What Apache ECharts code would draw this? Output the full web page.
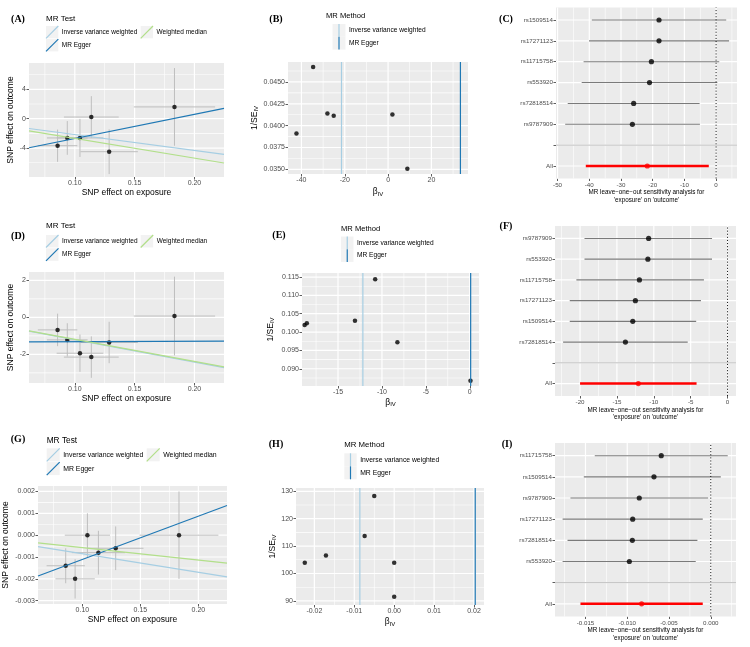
<!DOCTYPE html>
<html lang="en">
<head>
<meta charset="UTF-8">
<title>MR plots</title>
<script src="https://cdn.jsdelivr.net/npm/echarts@6.0.0/dist/echarts.min.js"></script>
<style>
  html, body { margin: 0; padding: 0; background: #fff; }
  #main { width: 750px; height: 647px; }
</style>
</head>
<body>
<div id="main"></div>
<script>
// ---------- data ----------
var expBeta = [0.0856, 0.0937, 0.1043, 0.1138, 0.1287, 0.1833];
var expSe   = [0.0165, 0.0170, 0.0195, 0.0229, 0.0240, 0.0340];

var outBetaA = [-3.68, -2.62, -2.62, 0.23, -4.50, 1.61];
var outSeA   = [2.20, 2.30, 2.60, 2.85, 3.05, 5.30];
var outBetaD = [-0.68, -1.22, -1.94, -2.15, -1.36, 0.07];
var outSeD   = [0.88, 0.90, 1.01, 1.12, 1.12, 2.13];
var outBetaG = [-0.0014, -0.0020, 0.0000, -0.0008, -0.0006, 0.0000];
var outSeG   = [0.0008, 0.0009, 0.0010, 0.0010, 0.0010, 0.0020];

var methods = ['Inverse variance weighted', 'MR Egger', 'Weighted median'];
var methodColors = ['#A6CEE3', '#1F78B4', '#B2DF8A'];
var slopeA = [-21.6, 33.0, -26.9],     interA = [0, -6.0, 0];
var slopeD = [-12.1, 0.3, -11.9],      interD = [0, -1.35, 0];
var slopeG = [-0.0085, 0.0198, -0.0057], interG = [0, -0.00309, 0];

// funnel plots: ratio estimate and 1/SE, plus IVW / Egger estimates
var funBetaB  = [-42.3, -28.0, -25.1, 2.0, -34.6, 8.9];
var funInvSeB = [0.03909, 0.04139, 0.04112, 0.04127, 0.04671, 0.03508];
var funLineB  = [-21.5, 33.4];
var funBetaE  = [-8.24, -13.07, -18.55, -18.8, -10.77, 0.08];
var funInvSeE = [0.0972, 0.1031, 0.1024, 0.1019, 0.1144, 0.0867];
var funLineE  = [-12.17, 0.1];
var funBetaH  = [-0.0171, -0.0224, 0.0, -0.0074, -0.0050, 0.0];
var funInvSeH = [106.6, 103.9, 103.9, 113.7, 128.3, 91.5];
var funLineH  = [-0.0086, 0.0203];

// leave-one-out, rows listed top to bottom; "all" = [b, lo, hi]
var looSnpC = ['rs1509514', 'rs17271123', 'rs11715758', 'rs553920', 'rs72818514', 'rs9787909'];
var looBC   = [-18.0, -18.0, -20.4, -21.0, -26.0, -26.4];
var looLoC  = [-39.2, -40.1, -41.8, -42.4, -46.8, -47.6];
var looHiC  = [3.2, 4.1, 1.0, 0.4, -5.2, -5.1];
var looAllC = [-21.7, -41.1, -2.3];

var looSnpF = ['rs9787909', 'rs553920', 'rs11715758', 'rs17271123', 'rs1509514', 'rs72818514'];
var looBF   = [-10.7, -10.8, -11.95, -12.5, -12.85, -13.85];
var looLoF  = [-19.4, -19.4, -20.5, -21.4, -21.4, -22.3];
var looHiF  = [-2.1, -2.1, -3.2, -3.6, -4.25, -5.4];
var looAllF = [-12.1, -20.0, -4.2];

var looSnpI = ['rs11715758', 'rs1509514', 'rs9787909', 'rs17271123', 'rs72818514', 'rs553920'];
var looBI   = [-0.00593, -0.0068, -0.00856, -0.00935, -0.00939, -0.00975];
var looLoI  = [-0.01389, -0.0152, -0.0168, -0.01774, -0.01715, -0.01774];
var looHiI  = [0.00203, 0.0012, -0.00032, -0.00096, -0.0016, -0.0018];
var looAllI = [-0.00828, -0.0156, -0.00096];

// tick labels
var ticksExp = [0.10, 0.15, 0.20];
var ticksA = [-4, 0, 4], ticksD = [-2, 0, 2], ticksG = [-0.003, -0.002, -0.001, 0, 0.001, 0.002];
var ticksBx = [-40, -20, 0, 20], ticksBy = [0.0350, 0.0375, 0.0400, 0.0425, 0.0450];
var ticksEx = [-15, -10, -5, 0],  ticksEy = [0.090, 0.095, 0.100, 0.105, 0.110, 0.115];
var ticksHx = [-0.02, -0.01, 0, 0.01, 0.02], ticksHy = [90, 100, 110, 120, 130];
var ticksC = [-50, -40, -30, -20, -10, 0];
var ticksF = [-20, -15, -10, -5, 0];
var ticksI = [-0.015, -0.010, -0.005, 0.000];

// ---------- layout ----------
var FONT = "'Liberation Sans', Arial, Helvetica, sans-serif";
var SERIF = "'Liberation Serif', 'Times New Roman', serif";
// left, top, width, height
var grids = [
    [29, 63, 195, 114],    // A
    [288, 62, 180, 112],   // B
    [556, 7.5, 181, 171],  // C
    [29, 272, 195, 111],   // D
    [302, 273, 177, 113],  // E
    [555, 226, 181, 170],  // F
    [38, 486, 189, 118],   // G
    [296, 488, 188, 117],  // H
    [555, 443, 181, 173.5] // I
];
var xrExp = [0.0617, 0.2247];

var myChart = echarts.init(document.getElementById('main'), null, {renderer: 'canvas'});
var option = {
    animation: false,
    backgroundColor: '#ffffff',
    textStyle: {fontFamily: FONT},
    grid: grids.map(function (g) {
        return {left: g[0], top: g[1], width: g[2], height: g[3], show: false,
            containLabel: false, outerBoundsMode: 'none'};
    }),
    xAxis: [], yAxis: [], series: [], graphic: []
};

function fmt(v, d) { return v.toFixed(d); }

function minors(ticks, range) {
    var step = ticks[1] - ticks[0], out = [];
    for (var k = -1; k < ticks.length; k++) {
        var v = ticks[0] + step * (k + 0.5);
        if (v > range[0] && v < range[1]) out.push(v);
    }
    return out;
}

function valueAxis(gi, range, ticks, labelFn, fs) {
    return {
        type: 'value', gridIndex: gi, min: range[0], max: range[1],
        axisLine: {show: false, onZero: false},
        axisTick: {show: true, customValues: ticks, length: 2.5, lineStyle: {color: '#333333', width: 0.8}},
        axisLabel: {customValues: ticks, color: '#4D4D4D', fontSize: fs || 7, fontFamily: FONT, margin: 3,
            formatter: labelFn},
        splitLine: {show: false}
    };
}

function segment(gi, pts, color, width, z, dash) {
    option.series.push({
        type: 'line', xAxisIndex: gi, yAxisIndex: gi, z: z, silent: true, symbol: 'none', clip: true,
        lineStyle: {color: color, width: width, type: dash || 'solid'},
        data: pts
    });
}

// grey panel + white grid lines (minor, then major), drawn as one custom series
function panelBackground(gi, xr, yr, xMaj, xMin, yMaj, yMin) {
    var lines = [];
    xMin.forEach(function (v) { lines.push([v, 0, 0.6]); });
    yMin.forEach(function (v) { lines.push([v, 1, 0.6]); });
    xMaj.forEach(function (v) { lines.push([v, 0, 1.2]); });
    yMaj.forEach(function (v) { lines.push([v, 1, 1.2]); });
    option.series.push({
        type: 'custom', xAxisIndex: gi, yAxisIndex: gi, z: 1, silent: true,
        data: [[xr[0], yr[0]]],
        renderItem: function (params, api) {
            var lo = api.coord([xr[0], yr[0]]), hi = api.coord([xr[1], yr[1]]);
            var kids = [{type: 'rect', shape: {x: lo[0], y: hi[1], width: hi[0] - lo[0], height: lo[1] - hi[1]},
                style: {fill: '#EBEBEB'}}];
            lines.forEach(function (l) {
                var p1, p2, vert = l[1] === 0;
                if (vert) { p1 = api.coord([l[0], yr[0]]); p2 = api.coord([l[0], yr[1]]); }
                else { p1 = api.coord([xr[0], l[0]]); p2 = api.coord([xr[1], l[0]]); }
                kids.push({type: 'rect',
                    shape: {x: Math.min(p1[0], p2[0]) - (vert ? l[2] / 2 : 0),
                            y: Math.min(p1[1], p2[1]) - (vert ? 0 : l[2] / 2),
                            width: vert ? l[2] : Math.abs(p2[0] - p1[0]),
                            height: vert ? Math.abs(p2[1] - p1[1]) : l[2]},
                    style: {fill: '#FFFFFF'}});
            });
            return {type: 'group', children: kids};
        }
    });
}

function axisName(ax, name, gap, fs, rotate) {
    ax.name = name;
    ax.nameLocation = 'middle';
    ax.nameGap = gap;
    if (rotate) ax.nameRotate = 90;
    ax.nameTextStyle = {color: '#000', fontSize: fs, fontFamily: FONT, lineHeight: fs * 1.2,
        rich: {s: {fontSize: fs * 0.7, fontFamily: FONT, color: '#000', padding: [fs * 0.45, 0, 0, 0]}}};
    return ax;
}

// ---------- scatter panels ----------
function scatterPanel(gi, outB, outSe, slope, inter, yr, yTicks, yDec, yGap) {
    var xa = valueAxis(gi, xrExp, ticksExp, function (v) { return fmt(v, 2); });
    var ya = valueAxis(gi, yr, yTicks, function (v) { return fmt(v, yDec); });
    option.xAxis[gi] = axisName(xa, 'SNP effect on exposure', 10, 8.5);
    option.yAxis[gi] = axisName(ya, 'SNP effect on outcome', yGap, 8.5, true);
    panelBackground(gi, xrExp, yr, ticksExp, minors(ticksExp, xrExp), yTicks, minors(yTicks, yr));
    option.series.push({
        type: 'custom', xAxisIndex: gi, yAxisIndex: gi, z: 4, silent: true,
        data: expBeta.map(function (x, i) { return [x, outB[i], expSe[i], outSe[i]]; }),
        renderItem: function (params, api) {
            var x = api.value(0), y = api.value(1), sx = api.value(2), sy = api.value(3);
            var v1 = api.coord([x, y - sy]), v2 = api.coord([x, y + sy]);
            var h1 = api.coord([x - sx, y]), h2 = api.coord([x + sx, y]);
            var st = {stroke: '#BEBEBE', lineWidth: 1};
            return {type: 'group', children: [
                {type: 'line', shape: {x1: v1[0], y1: v1[1], x2: v2[0], y2: v2[1]}, style: st},
                {type: 'line', shape: {x1: h1[0], y1: h1[1], x2: h2[0], y2: h2[1]}, style: st}
            ]};
        }
    });
    option.series.push({
        type: 'scatter', xAxisIndex: gi, yAxisIndex: gi, z: 5, silent: true,
        symbolSize: 4.5, itemStyle: {color: '#000'},
        data: expBeta.map(function (x, i) { return [x, outB[i]]; })
    });
    methods.forEach(function (m, k) {
        segment(gi, xrExp.map(function (x) { return [x, inter[k] + slope[k] * x]; }), methodColors[k], 1.2, 6);
    });
}

// ---------- funnel panels ----------
function funnelPanel(gi, beta, invSe, lines, xr, yr, xTicks, xDec, yTicks, yDec, yGap, xGap) {
    var xa = valueAxis(gi, xr, xTicks, function (v) { return fmt(v, xDec); });
    var ya = valueAxis(gi, yr, yTicks, function (v) { return fmt(v, yDec); });
    option.xAxis[gi] = axisName(xa, 'β{s|IV}', xGap, 8.5);
    option.yAxis[gi] = axisName(ya, '1/SE{s|IV}', yGap, 8.5, true);
    panelBackground(gi, xr, yr, xTicks, minors(xTicks, xr), yTicks, minors(yTicks, yr));
    option.series.push({
        type: 'scatter', xAxisIndex: gi, yAxisIndex: gi, z: 5, silent: true,
        symbolSize: 4.5, itemStyle: {color: '#000'},
        data: beta.map(function (b, i) { return [b, invSe[i]]; })
    });
    lines.forEach(function (b, k) {
        segment(gi, [[b, yr[0]], [b, yr[1]]], methodColors[k], 1.2, 6);
    });
}

// ---------- leave-one-out panels ----------
function forestPanel(gi, snps, b, lo, hi, all, xr, xTicks, xDec) {
    var rows = ['All', ''].concat(snps.slice().reverse());
    var yr = [-0.6, rows.length - 1 + 0.6];
    var yTicks = rows.map(function (r, i) { return i; });
    var xa = valueAxis(gi, xr, xTicks, function (v) { return fmt(v, xDec); }, 6.2);
    var ya = valueAxis(gi, yr, yTicks, function (v) { return rows[Math.round(v)]; }, 6.2);
    xa.axisLabel.margin = 3.5;
    option.xAxis[gi] = axisName(xa, "MR leave\u2212one\u2212out sensitivity analysis for\n'exposure' on 'outcome'", 9.5, 6.3);
    option.yAxis[gi] = ya;
    panelBackground(gi, xr, yr, xTicks, minors(xTicks, xr), yTicks, []);
    var n = snps.length;
    var bars = snps.map(function (s, i) { return [b[i], n + 1 - i, lo[i], hi[i], 0]; });
    bars.push([all[0], 0, all[1], all[2], 1]);
    segment(gi, [[0, yr[0]], [0, yr[1]]], '#000', 0.9, 4, [1.1, 2]);
    option.series.push({
        type: 'custom', xAxisIndex: gi, yAxisIndex: gi, z: 4, silent: true, data: bars,
        renderItem: function (params, api) {
            var row = api.value(1), tot = api.value(4);
            var p1 = api.coord([api.value(2), row]), p2 = api.coord([api.value(3), row]);
            return {type: 'line', shape: {x1: p1[0], y1: p1[1], x2: p2[0], y2: p2[1]},
                style: {stroke: tot ? '#FF0000' : '#7A7A7A', lineWidth: tot ? 2.6 : 1.1}};
        }
    });
    option.series.push({
        type: 'scatter', xAxisIndex: gi, yAxisIndex: gi, z: 5, silent: true,
        symbolSize: 5.2, itemStyle: {color: '#000'},
        data: snps.map(function (s, i) { return [b[i], n + 1 - i]; })
    });
    option.series.push({
        type: 'scatter', xAxisIndex: gi, yAxisIndex: gi, z: 5, silent: true,
        symbolSize: 5.2, itemStyle: {color: '#FF0000'},
        data: [[all[0], 0]]
    });
    segment(gi, [[xr[0], 1], [xr[1], 1]], '#BEBEBE', 1, 6);
}

// ---------- graphic helpers (tags + legends) ----------
function txt(x, y, s, font, fill, align) {
    option.graphic.push({type: 'text', x: x, y: y, silent: true,
        style: {text: s, font: font, fill: fill || '#000', textAlign: align || 'left', align: align || 'left',
            textVerticalAlign: 'middle', verticalAlign: 'middle'}});
}
function tag(x, y, s) { txt(x, y, s, 'bold 10px ' + SERIF, '#000', 'center'); }

function scatterLegend(L) {
    txt(L.x, L.ty, 'MR Test', L.tfs + 'px ' + FONT);
    var keys = [[L.x, L.ky, 0], [L.x, L.ky + L.k + 0.8, 1], [L.cx, L.ky, 2]];
    keys.forEach(function (k) {
        option.graphic.push({type: 'rect', silent: true, shape: {x: k[0], y: k[1], width: L.k, height: L.k},
            style: {fill: '#F2F2F2'}});
        option.graphic.push({type: 'line', silent: true,
            shape: {x1: k[0], y1: k[1] + L.k, x2: k[0] + L.k, y2: k[1]},
            style: {stroke: methodColors[k[2]], lineWidth: 1.2}});
        txt(k[0] + L.k + 3.5, k[1] + L.k / 2, methods[k[2]], L.fs + 'px ' + FONT);
    });
}

function funnelLegend(L) {
    txt(L.tx, L.ty, 'MR Method', L.tfs + 'px ' + FONT);
    [0, 1].forEach(function (k) {
        var y = L.ky + k * L.kh;
        option.graphic.push({type: 'rect', silent: true, shape: {x: L.x, y: y, width: L.kw, height: L.kh},
            style: {fill: '#F2F2F2'}});
        option.graphic.push({type: 'line', silent: true,
            shape: {x1: L.x + L.kw / 2, y1: y, x2: L.x + L.kw / 2, y2: y + L.kh},
            style: {stroke: methodColors[k], lineWidth: 1.2}});
        txt(L.x + L.kw + 3.5, y + L.kh / 2, methods[k], L.fs + 'px ' + FONT);
    });
}

// ---------- build ----------
scatterPanel(0, outBetaA, outSeA, slopeA, interA, [-7.95, 7.6], ticksA, 0, 11);
funnelPanel(1, funBetaB, funInvSeB, funLineB, [-46.2, 36.9], [0.03447, 0.04728], ticksBx, 0, ticksBy, 4, 27, 13);
forestPanel(2, looSnpC, looBC, looLoC, looHiC, looAllC, [-50.5, 6.6], ticksC, 0);
scatterPanel(3, outBetaD, outSeD, slopeD, interD, [-3.55, 2.45], ticksD, 0, 11);
funnelPanel(4, funBetaE, funInvSeE, funLineE, [-19.1, 1.05], [0.0853, 0.1161], ticksEx, 0, ticksEy, 3, 26, 11.5);
forestPanel(5, looSnpF, looBF, looLoF, looHiF, looAllF, [-23.4, 1.15], ticksF, 0);
scatterPanel(6, outBetaG, outSeG, slopeG, interG, [-0.00315, 0.00225], ticksG, 3, 27);
funnelPanel(7, funBetaH, funInvSeH, funLineH, [-0.0246, 0.0225], [88.5, 131.2], ticksHx, 2, ticksHy, 0, 17, 12);
forestPanel(8, looSnpI, looBI, looLoI, looHiI, looAllI, [-0.01865, 0.00302], ticksI, 3);

tag(18, 19, '(A)'); tag(276, 19, '(B)'); tag(506, 19, '(C)');
tag(18, 236, '(D)'); tag(279, 235, '(E)'); tag(506, 226, '(F)');
tag(18, 439, '(G)'); tag(276, 444, '(H)'); tag(507, 444, '(I)');

scatterLegend({x: 46, ty: 18.3, ky: 26, k: 12.3, cx: 140.7, fs: 6.5, tfs: 8});
scatterLegend({x: 46, ty: 226, ky: 235, k: 12.5, cx: 140.7, fs: 6.5, tfs: 8});
scatterLegend({x: 46.7, ty: 440.7, ky: 448.3, k: 13, cx: 146.7, fs: 6.9, tfs: 8.3});

funnelLegend({tx: 326, x: 332.5, ty: 16, ky: 24, kw: 13, kh: 12.8, fs: 6.6, tfs: 7.6});
funnelLegend({tx: 341, x: 341, ty: 229, ky: 236.5, kw: 12.5, kh: 12.7, fs: 6.6, tfs: 7.6});
funnelLegend({tx: 344.3, x: 344.3, ty: 445, ky: 453.3, kw: 12.4, kh: 13, fs: 6.8, tfs: 7.8});

myChart.setOption(option);
</script>
</body>
</html>
